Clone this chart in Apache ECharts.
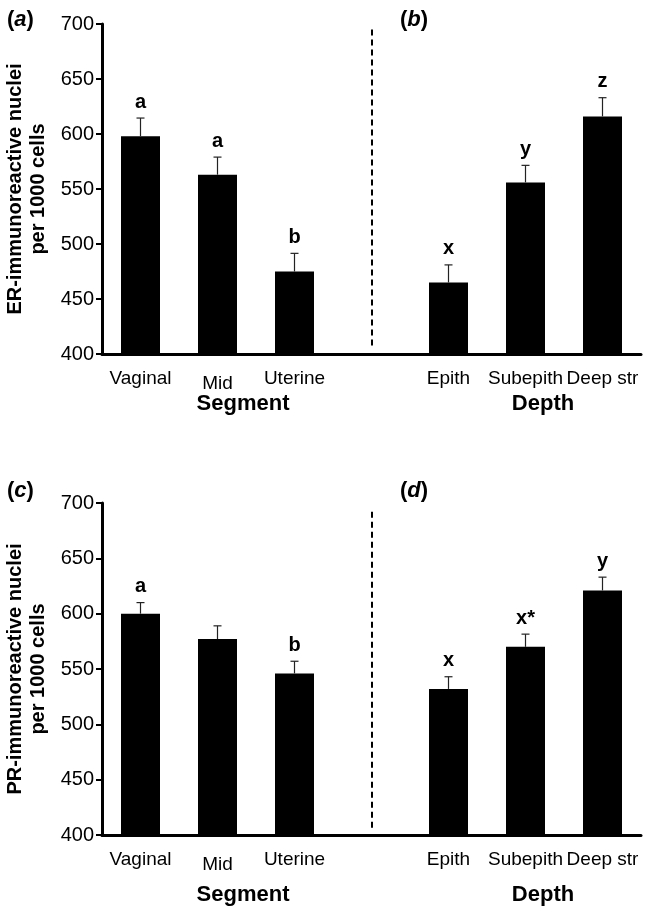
<!DOCTYPE html>
<html>
<head>
<meta charset="utf-8">
<script src="https://cdn.jsdelivr.net/npm/echarts@6/dist/echarts.min.js"></script>
<style>
  html, body { margin: 0; padding: 0; background: #fff; }
  #main { width: 650px; height: 912px; }
</style>
</head>
<body>
<div id="main"></div>
<script>
// 数据
var categories = ['Vaginal', 'Mid', 'Uterine', '', 'Epith', 'Subepith', 'Deep str'];
var erMeans = [598, 563, 475, null, 465, 556, 616];
var erSem = [16.5, 16, 16.5, null, 16, 15.5, 17];
var erLetters = ['a', 'a', 'b', '', 'x', 'y', 'z'];
var prMeans = [600, 577, 546, null, 532, 570, 621];
var prSem = [10, 12, 11, null, 11, 11.5, 12];
var prLetters = ['a', '', 'b', '', 'x', 'x*', 'y'];
var yTicks = { min: 400, max: 700, interval: 50 };

var FONT = '"Liberation Sans", Arial, sans-serif';

var chartDom = document.getElementById('main');
var myChart = echarts.init(chartDom);

function xAxisOf(gridIndex) {
  return {
    type: 'category',
    gridIndex: gridIndex,
    data: categories.map(function (c) {
      // Mid 标签略低
      return c === 'Mid' ? { value: c, textStyle: { padding: [5, 0, 0, 0] } } : c;
    }),
    axisLine: { lineStyle: { color: '#000', width: 3 } },
    axisTick: { show: false },
    axisLabel: { color: '#000', fontSize: 19, fontFamily: FONT, margin: 15, interval: 0 }
  };
}

function yAxisOf(gridIndex, name) {
  return {
    type: 'value',
    gridIndex: gridIndex,
    min: yTicks.min,
    max: yTicks.max,
    interval: yTicks.interval,
    name: name,
    nameLocation: 'middle',
    nameRotate: 90,
    nameGap: 44,
    nameTextStyle: { color: '#000', fontSize: 20, fontWeight: 'bold', fontFamily: FONT, lineHeight: 23 },
    axisLine: { show: true, lineStyle: { color: '#000', width: 3 } },
    axisTick: { show: true, length: 6, lineStyle: { color: '#000', width: 2 } },
    axisLabel: { color: '#000', fontSize: 20, fontFamily: FONT, margin: 8 },
    splitLine: { show: false }
  };
}

function barSeries(idx, means, dashFrom, dashTo) {
  return {
    type: 'bar',
    xAxisIndex: idx,
    yAxisIndex: idx,
    data: means.map(function (v) { return v == null ? '-' : v; }),
    barWidth: 39,
    itemStyle: { color: '#000' },
    silent: true,
    markLine: {
      silent: true,
      symbol: 'none',
      label: { show: false },
      lineStyle: { color: '#000', type: [6, 4], width: 2 },
      data: [[{ coord: [3, dashFrom] }, { coord: [3, dashTo] }]]
    }
  };
}

// 误差线 + 字母标记
function errSeries(idx, means, sem, letters) {
  return {
    type: 'custom',
    xAxisIndex: idx,
    yAxisIndex: idx,
    z: 5,
    silent: true,
    data: means.map(function (m, i) { return [i, m == null ? NaN : m, sem[i] == null ? NaN : sem[i]]; }),
    renderItem: function (params, api) {
      var i = api.value(0), m = api.value(1), s = api.value(2);
      if (isNaN(m)) return;
      var base = api.coord([i, m]);
      var top = api.coord([i, m + s]);
      return {
        type: 'group',
        children: [
          { type: 'line', shape: { x1: base[0], y1: base[1], x2: top[0], y2: top[1] },
            style: { stroke: '#222', lineWidth: 1.2 } },
          { type: 'line', shape: { x1: top[0] - 4, y1: top[1], x2: top[0] + 4, y2: top[1] },
            style: { stroke: '#222', lineWidth: 1.2 } },
          { type: 'text', x: top[0], y: top[1] - 6,
            style: { text: letters[params.dataIndex], fill: '#000', font: 'bold 20px ' + FONT,
              textAlign: 'center', textVerticalAlign: 'bottom' } }
        ]
      };
    }
  };
}

function panelLabel(x, y, letter) {
  return {
    type: 'text', left: x, top: y,
    style: {
      text: '({i|' + letter + '})',
      rich: { i: { fontStyle: 'italic', fontWeight: 'bold', fontSize: 22, fontFamily: FONT, fill: '#000' } },
      font: 'bold 22px ' + FONT, fill: '#000'
    }
  };
}

function axisTitle(cx, cy, text) {
  return {
    type: 'text', x: cx, y: cy,
    style: { text: text, font: 'bold 22px ' + FONT, fill: '#000', textAlign: 'center', textVerticalAlign: 'middle' }
  };
}

var option = {
  animation: false,
  backgroundColor: '#fff',
  grid: [
    { left: 102, top: 24, width: 539, height: 330, outerBoundsMode: 'none', containLabel: false },
    { left: 102, top: 503, width: 539, height: 332, outerBoundsMode: 'none', containLabel: false }
  ],
  xAxis: [xAxisOf(0), xAxisOf(1)],
  yAxis: [
    yAxisOf(0, 'ER-immunoreactive nuclei\nper 1000 cells'),
    yAxisOf(1, 'PR-immunoreactive nuclei\nper 1000 cells')
  ],
  graphic: [
    panelLabel(7, 9, 'a'),
    panelLabel(400, 9, 'b'),
    panelLabel(7, 480, 'c'),
    panelLabel(400, 480, 'd'),
    axisTitle(243, 404, 'Segment'),
    axisTitle(543, 404, 'Depth'),
    axisTitle(243, 895, 'Segment'),
    axisTitle(543, 895, 'Depth')
  ],
  series: [
    barSeries(0, erMeans, 695, 405),
    errSeries(0, erMeans, erSem, erLetters),
    barSeries(1, prMeans, 692, 404),
    errSeries(1, prMeans, prSem, prLetters)
  ]
};

option && myChart.setOption(option);
</script>
</body>
</html>
